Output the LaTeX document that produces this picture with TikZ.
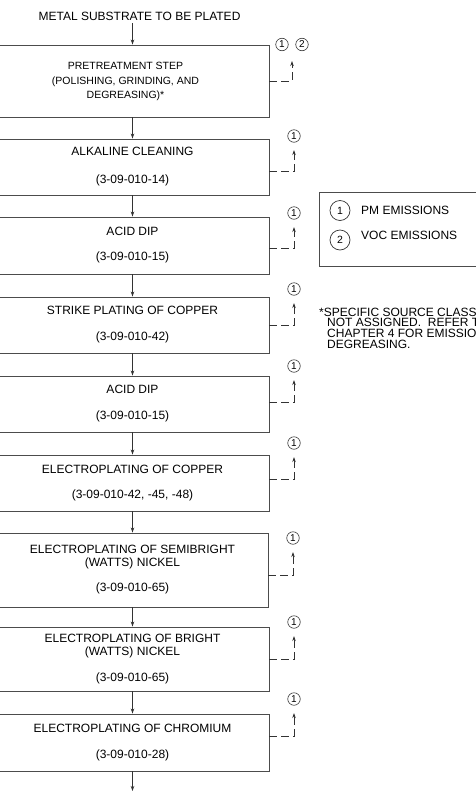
\documentclass[tikz,border=0pt]{standalone}
\usepackage{fontspec}
\setmainfont{Liberation Sans}
\usetikzlibrary{arrows.meta}
\newcommand\boxfont{\fontsize{12pt}{13.5pt}\selectfont}
\begin{document}
\begin{tikzpicture}[x=1pt,y=-1pt,
  box/.style={draw=black!70, line width=0.9pt, minimum width=273pt, inner sep=0pt, align=center, font=\boxfont},
  flow/.style={draw=black!80, line width=0.8pt, -{Stealth[length=5pt,width=3.5pt]}},
  emis/.style={draw=black!80, line width=0.8pt, dash pattern=on 8pt off 4pt, -{Stealth[length=5pt,width=3.5pt]}, shorten >=7.5pt},
  sc/.style={circle, draw=black!80, line width=0.6pt, inner sep=0pt, minimum size=12.5pt, font=\fontsize{10pt}{11pt}\selectfont},
  lc/.style={circle, draw=black!80, line width=0.7pt, inner sep=0pt, minimum size=20pt, font=\fontsize{10.5pt}{11pt}\selectfont},
  lbl/.style={font=\boxfont, anchor=west, inner sep=0pt}
]
\useasboundingbox (0,0) rectangle (476,793);

\node[font=\boxfont, inner sep=0pt] (title) at (139.5,16) {METAL SUBSTRATE TO BE PLATED};

\node[box, minimum height=72pt] (b1) at (132.5,81) {};
\node[align=center, inner sep=0pt, font=\fontsize{10.5pt}{14.5pt}\selectfont] (b1t) at (125.5,81.5) {PRETREATMENT STEP\\(POLISHING, GRINDING, AND\\DEGREASING)*};
\node[box, minimum height=56pt] (b2) at (132.5,167) {ALKALINE CLEANING\\[14.5pt](3-09-010-14)};
\node[box, minimum height=57pt] (b3) at (132.5,245.5) {ACID DIP\\[11.5pt](3-09-010-15)};
\node[box, minimum height=56pt] (b4) at (132.5,325) {STRIKE PLATING OF COPPER\\[12.5pt](3-09-010-42)};
\node[box, minimum height=56pt] (b5) at (132.5,404) {ACID DIP\\[12.5pt](3-09-010-15)};
\node[box, minimum height=56pt] (b6) at (132.5,483) {ELECTROPLATING OF COPPER\\[11.5pt](3-09-010-42, -45, -48)};
\node[box, minimum height=74pt, minimum width=271pt] (b7) at (132.5,570) {ELECTROPLATING OF SEMIBRIGHT\\[-0.5pt](WATTS) NICKEL\\[11.5pt](3-09-010-65)};
\node[box, minimum height=64pt] (b8) at (132.5,659) {ELECTROPLATING OF BRIGHT\\[-0.5pt](WATTS) NICKEL\\[12.5pt](3-09-010-65)};
\node[box, minimum height=57pt] (b9) at (132.5,742.5) {ELECTROPLATING OF CHROMIUM\\[12.5pt](3-09-010-28)};
\coordinate (end) at (132.5,791);

\draw[flow, shorten <=3pt] (b1.north |- title.south) -- (b1.north);
\draw[flow] (b1) -- (b2);
\draw[flow] (b2) -- (b3);
\draw[flow] (b3) -- (b4);
\draw[flow] (b4) -- (b5);
\draw[flow] (b5) -- (b6);
\draw[flow] (b6) -- (b7);
\draw[flow] (b7) -- (b8);
\draw[flow] (b8) -- (b9);
\draw[flow] (b9) -- (end);

% emission markers
\node[sc] (c1a) at (282,44.5) {1};
\node[sc] (c1b) at (302,44.5) {2};
\coordinate (t1) at (292,61);
\draw[emis, shorten >=0pt] (b1.east) -| (t1);
\node[sc] (c2) at (294,136) {1};
\draw[emis] ([yshift=-4pt]b2.east) -| (c2.south);
\node[sc] (c3) at (294,213) {1};
\draw[emis] ([yshift=-2.5pt]b3.east) -| (c3.south);
\node[sc] (c4) at (294,289) {1};
\draw[emis] (b4.east) -| (c4.south);
\node[sc] (c5) at (294,366) {1};
\draw[emis] ([yshift=2pt]b5.east) -| (c5.south);
\node[sc] (c6) at (294,443) {1};
\draw[emis] ([yshift=4pt]b6.east) -| (c6.south);
\node[sc] (c7) at (293,538) {1};
\draw[emis] ([yshift=-5pt]b7.east) -| (c7.south);
\node[sc] (c8) at (294,622) {1};
\draw[emis] (b8.east) -| (c8.south);
\node[sc] (c9) at (294,699) {1};
\draw[emis] ([yshift=6.5pt]b9.east) -| (c9.south);

% legend
\node[draw=black!70, line width=0.9pt, minimum width=161pt, minimum height=74pt, inner sep=0pt] (legend) at (399.5,229) {};
\node[lc] (l1) at (340,210.5) {1};
\node[lc] (l2) at (340,240) {2};
\node[lbl] (pm) at (361,210) {PM EMISSIONS};
\node[lbl] (voc) at (361,235) {VOC EMISSIONS};

% footnote
\node[anchor=north west, inner sep=0pt, align=left, font=\fontsize{12pt}{10.7pt}\selectfont] (note) at (319,307.5) {*SPECIFIC SOURCE CLASS\\\hspace*{8pt}NOT ASSIGNED.\ \ REFER T\\\hspace*{8pt}CHAPTER 4 FOR EMISSIO\\\hspace*{8pt}DEGREASING.};
\end{tikzpicture}
\end{document}
